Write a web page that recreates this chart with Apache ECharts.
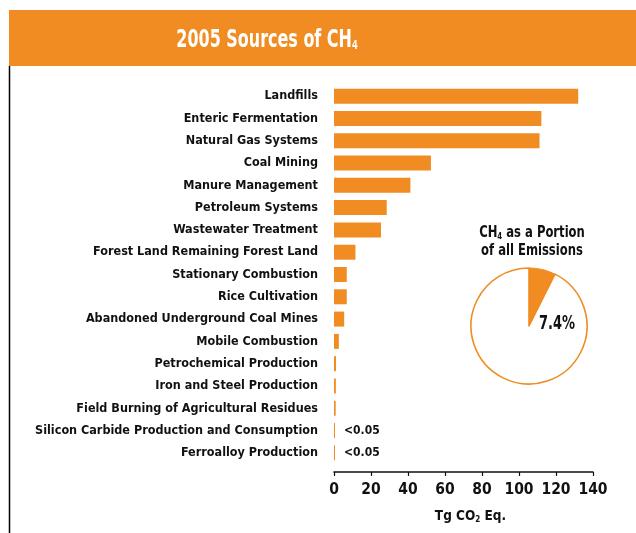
<!DOCTYPE html>
<html>
<head>
<meta charset="utf-8">
<script src="https://cdn.jsdelivr.net/npm/echarts@6/dist/echarts.min.js"></script>
<style>
  html, body { margin: 0; padding: 0; background: #fff; }
  #chart { width: 636px; height: 533px; }
</style>
</head>
<body>
<div id="chart"></div>
<script>
// 2005 CH4 sources, Tg CO2 Eq.
const categories = [
  'Landfills',
  'Enteric Fermentation',
  'Natural Gas Systems',
  'Coal Mining',
  'Manure Management',
  'Petroleum Systems',
  'Wastewater Treatment',
  'Forest Land Remaining Forest Land',
  'Stationary Combustion',
  'Rice Cultivation',
  'Abandoned Underground Coal Mines',
  'Mobile Combustion',
  'Petrochemical Production',
  'Iron and Steel Production',
  'Field Burning of Agricultural Residues',
  'Silicon Carbide Production and Consumption',
  'Ferroalloy Production'
];
const values = [132.0, 112.1, 111.1, 52.4, 41.3, 28.5, 25.4, 11.6, 6.9, 6.9, 5.5, 2.6, 1.1, 1.0, 0.9, 0.04, 0.04];
const smallLabels = ['', '', '', '', '', '', '', '', '', '', '', '', '', '', '', '<0.05', '<0.05'];
const xTicks = [0, 20, 40, 60, 80, 100, 120, 140];
const portionNames = ['CH4', 'Other'];
const portionValues = [7.4, 92.6];

const ORANGE = '#F08C21';
const FONT = "'DejaVu Sans Condensed', 'Liberation Sans Narrow', sans-serif";

const chart = echarts.init(document.getElementById('chart'));

const option = {
  backgroundColor: '#fff',
  animation: false,
  graphic: [
    { type: 'rect', shape: { x: 9, y: 10, width: 640, height: 56 }, style: { fill: ORANGE }, z: 0 },
    { type: 'line', shape: { x1: 9.5, y1: 66, x2: 9.5, y2: 533 }, style: { stroke: '#000', lineWidth: 1.5 } },
    {
      // chart title, squeezed to look like a condensed face
      type: 'text', x: 267, y: 40, scaleX: 0.71, z: 10,
      style: {
        text: '2005 Sources of CH{sub|4}',
        font: 'bold 25px ' + FONT, fill: '#fff', align: 'center', verticalAlign: 'middle',
        rich: { sub: { fontSize: 13, fontWeight: 'bold', fontFamily: FONT, fill: '#fff', padding: [12, 0, 0, 0] } }
      }
    },
    {
      type: 'text', x: 532, y: 233, scaleX: 0.86, z: 10,
      style: {
        text: 'CH{sub|4} as a Portion',
        font: 'bold 15px ' + FONT, fill: '#111', align: 'center', verticalAlign: 'middle',
        rich: { sub: { fontSize: 9, fontWeight: 'bold', fontFamily: FONT, fill: '#111', padding: [7, 0, 0, 0] } }
      }
    },
    {
      type: 'text', x: 532, y: 251, scaleX: 0.86, z: 10,
      style: { text: 'of all Emissions', font: 'bold 15px ' + FONT, fill: '#111', align: 'center', verticalAlign: 'middle' }
    },
    {
      type: 'text', x: 557, y: 324, scaleX: 0.76, z: 10,
      style: { text: '7.4%', font: 'bold 19px ' + FONT, fill: '#111', align: 'center', verticalAlign: 'middle' }
    }
  ],
  grid: { left: 334, right: 43, top: 85, bottom: 69, containLabel: false },
  xAxis: {
    type: 'value',
    min: xTicks[0],
    max: xTicks[xTicks.length - 1],
    interval: 20,
    offset: 8,
    name: 'Tg CO{sub|2} Eq.',
    nameLocation: 'middle',
    nameGap: 37,
    nameTextStyle: {
      color: '#111', fontFamily: FONT, fontWeight: 'bold', fontSize: 13.5, padding: [0, 0, 0, 14],
      rich: { sub: { color: '#111', fontFamily: FONT, fontWeight: 'bold', fontSize: 8, padding: [7, 0, 0, 0] } }
    },
    axisLine: { show: true, lineStyle: { color: '#111', width: 1.5 } },
    axisTick: { show: true, length: 4, lineStyle: { color: '#111', width: 1.2 } },
    axisLabel: { color: '#111', fontFamily: FONT, fontWeight: 'bold', fontSize: 15.5, margin: 10 },
    splitLine: { show: false }
  },
  yAxis: {
    type: 'category',
    inverse: true,
    data: categories,
    axisLine: { show: false },
    axisTick: { show: false },
    axisLabel: { color: '#111', fontFamily: FONT, fontWeight: 'bold', fontSize: 12.5, margin: 16 }
  },
  series: [
    {
      type: 'bar',
      data: values.map((v, i) => ({
        value: v,
        label: smallLabels[i] ? {
          show: true, position: 'right', distance: 9, formatter: smallLabels[i],
          color: '#111', fontFamily: FONT, fontWeight: 'bold', fontSize: 12
        } : { show: false }
      })),
      barWidth: 15,
      barMinHeight: 1,
      itemStyle: { color: ORANGE }
    },
    {
      type: 'pie',
      center: [529, 326],
      radius: [0, 58],
      startAngle: 90,
      clockwise: true,
      silent: true,
      label: { show: false },
      labelLine: { show: false },
      data: [
        { name: portionNames[0], value: portionValues[0], itemStyle: { color: ORANGE, borderColor: ORANGE, borderWidth: 1 } },
        { name: portionNames[1], value: portionValues[1], itemStyle: { color: '#fff', borderColor: ORANGE, borderWidth: 1.6 } }
      ]
    }
  ]
};

chart.setOption(option);
window.addEventListener('resize', () => chart.resize());
</script>
</body>
</html>
